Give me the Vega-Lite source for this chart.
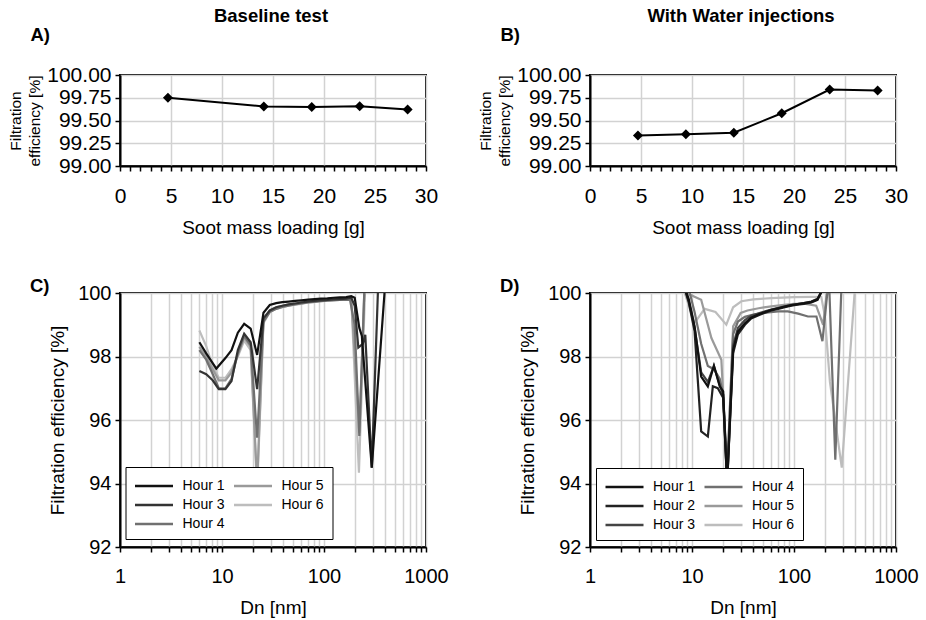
{
  "$schema": "https://vega.github.io/schema/vega-lite/v6.json",
  "background": "white",
  "padding": {"left": 7, "top": 5, "right": 5, "bottom": 2},
  "config": {
    "font": "Liberation Sans",
    "view": {"stroke": "black", "strokeWidth": 2},
    "axis": {
      "domainColor": "black", "domainWidth": 2,
      "tickColor": "black", "tickWidth": 1.5, "tickSize": 5,
      "labelFont": "Liberation Sans", "labelFontSize": 20, "labelColor": "black",
      "titleFont": "Liberation Sans", "titleFontSize": 19, "titleFontWeight": "normal", "titleColor": "black",
      "gridColor": "#d2d2d2", "gridWidth": 1.5,
      "labelFlush": false, "labelOverlap": false
    },
    "axisX": {"labelPadding": 14, "titlePadding": 12},
    "axisY": {"labelPadding": 4, "titlePadding": 10},
    "title": {"font": "Liberation Sans", "fontSize": 18.5, "fontWeight": "bold", "color": "black"}
  },
  "datasets": {
    "effA": [
      {"load": 4.7, "eff": 99.75}, {"load": 14.1, "eff": 99.655}, {"load": 18.8, "eff": 99.647},
      {"load": 23.5, "eff": 99.657}, {"load": 28.2, "eff": 99.62}
    ],
    "effB": [
      {"load": 4.7, "eff": 99.335}, {"load": 9.4, "eff": 99.35}, {"load": 14.1, "eff": 99.365},
      {"load": 18.8, "eff": 99.58}, {"load": 23.5, "eff": 99.84}, {"load": 28.2, "eff": 99.83}
    ],
    "psdC": [
      {"hour": "Hour 6", "dn": 6.0, "eff": 98.82}, {"hour": "Hour 6", "dn": 7.0, "eff": 98.33}, {"hour": "Hour 6", "dn": 8.1, "eff": 97.7}, {"hour": "Hour 6", "dn": 9.3, "eff": 97.33}, {"hour": "Hour 6", "dn": 10.8, "eff": 97.33}, {"hour": "Hour 6", "dn": 12.4, "eff": 97.6}, {"hour": "Hour 6", "dn": 14.3, "eff": 98.0}, {"hour": "Hour 6", "dn": 16.5, "eff": 98.5}, {"hour": "Hour 6", "dn": 19.1, "eff": 98.2}, {"hour": "Hour 6", "dn": 22.1, "eff": 93.8}, {"hour": "Hour 6", "dn": 25.5, "eff": 99.05}, {"hour": "Hour 6", "dn": 29.4, "eff": 99.4}, {"hour": "Hour 6", "dn": 34, "eff": 99.5}, {"hour": "Hour 6", "dn": 39, "eff": 99.55}, {"hour": "Hour 6", "dn": 45, "eff": 99.6}, {"hour": "Hour 6", "dn": 52, "eff": 99.63}, {"hour": "Hour 6", "dn": 60, "eff": 99.66}, {"hour": "Hour 6", "dn": 70, "eff": 99.7}, {"hour": "Hour 6", "dn": 81, "eff": 99.72}, {"hour": "Hour 6", "dn": 93, "eff": 99.74}, {"hour": "Hour 6", "dn": 108, "eff": 99.76}, {"hour": "Hour 6", "dn": 124, "eff": 99.78}, {"hour": "Hour 6", "dn": 143, "eff": 99.8}, {"hour": "Hour 6", "dn": 165, "eff": 99.82}, {"hour": "Hour 6", "dn": 185, "eff": 99.85}, {"hour": "Hour 6", "dn": 220, "eff": 94.34}, {"hour": "Hour 6", "dn": 254, "eff": 100.3},
      {"hour": "Hour 5", "dn": 6.0, "eff": 98.3}, {"hour": "Hour 5", "dn": 7.0, "eff": 98.0}, {"hour": "Hour 5", "dn": 8.1, "eff": 97.6}, {"hour": "Hour 5", "dn": 9.3, "eff": 97.25}, {"hour": "Hour 5", "dn": 10.8, "eff": 97.25}, {"hour": "Hour 5", "dn": 12.4, "eff": 97.5}, {"hour": "Hour 5", "dn": 14.3, "eff": 98.05}, {"hour": "Hour 5", "dn": 16.5, "eff": 98.6}, {"hour": "Hour 5", "dn": 19.1, "eff": 98.3}, {"hour": "Hour 5", "dn": 22.1, "eff": 94.0}, {"hour": "Hour 5", "dn": 25.5, "eff": 99.15}, {"hour": "Hour 5", "dn": 29.4, "eff": 99.45}, {"hour": "Hour 5", "dn": 34, "eff": 99.55}, {"hour": "Hour 5", "dn": 39, "eff": 99.6}, {"hour": "Hour 5", "dn": 45, "eff": 99.64}, {"hour": "Hour 5", "dn": 52, "eff": 99.67}, {"hour": "Hour 5", "dn": 60, "eff": 99.7}, {"hour": "Hour 5", "dn": 70, "eff": 99.73}, {"hour": "Hour 5", "dn": 81, "eff": 99.75}, {"hour": "Hour 5", "dn": 93, "eff": 99.77}, {"hour": "Hour 5", "dn": 108, "eff": 99.78}, {"hour": "Hour 5", "dn": 124, "eff": 99.8}, {"hour": "Hour 5", "dn": 143, "eff": 99.8}, {"hour": "Hour 5", "dn": 165, "eff": 99.8}, {"hour": "Hour 5", "dn": 185, "eff": 99.82}, {"hour": "Hour 5", "dn": 222, "eff": 95.6}, {"hour": "Hour 5", "dn": 250, "eff": 100.3},
      {"hour": "Hour 4", "dn": 6.0, "eff": 98.2}, {"hour": "Hour 4", "dn": 7.0, "eff": 97.9}, {"hour": "Hour 4", "dn": 8.1, "eff": 97.45}, {"hour": "Hour 4", "dn": 9.3, "eff": 97.0}, {"hour": "Hour 4", "dn": 10.8, "eff": 97.0}, {"hour": "Hour 4", "dn": 12.4, "eff": 97.3}, {"hour": "Hour 4", "dn": 14.3, "eff": 98.1}, {"hour": "Hour 4", "dn": 16.5, "eff": 98.65}, {"hour": "Hour 4", "dn": 19.1, "eff": 98.35}, {"hour": "Hour 4", "dn": 22.1, "eff": 95.44}, {"hour": "Hour 4", "dn": 25.5, "eff": 99.1}, {"hour": "Hour 4", "dn": 29.4, "eff": 99.4}, {"hour": "Hour 4", "dn": 34, "eff": 99.5}, {"hour": "Hour 4", "dn": 39, "eff": 99.56}, {"hour": "Hour 4", "dn": 45, "eff": 99.6}, {"hour": "Hour 4", "dn": 52, "eff": 99.64}, {"hour": "Hour 4", "dn": 60, "eff": 99.67}, {"hour": "Hour 4", "dn": 70, "eff": 99.7}, {"hour": "Hour 4", "dn": 81, "eff": 99.72}, {"hour": "Hour 4", "dn": 93, "eff": 99.74}, {"hour": "Hour 4", "dn": 108, "eff": 99.76}, {"hour": "Hour 4", "dn": 124, "eff": 99.77}, {"hour": "Hour 4", "dn": 143, "eff": 99.78}, {"hour": "Hour 4", "dn": 165, "eff": 99.78}, {"hour": "Hour 4", "dn": 180, "eff": 99.78}, {"hour": "Hour 4", "dn": 200, "eff": 99.0}, {"hour": "Hour 4", "dn": 222, "eff": 95.5}, {"hour": "Hour 4", "dn": 250, "eff": 100.3},
      {"hour": "Hour 3", "dn": 6.0, "eff": 97.54}, {"hour": "Hour 3", "dn": 7.0, "eff": 97.44}, {"hour": "Hour 3", "dn": 8.1, "eff": 97.25}, {"hour": "Hour 3", "dn": 9.3, "eff": 96.97}, {"hour": "Hour 3", "dn": 10.8, "eff": 96.97}, {"hour": "Hour 3", "dn": 12.4, "eff": 97.23}, {"hour": "Hour 3", "dn": 14.3, "eff": 98.2}, {"hour": "Hour 3", "dn": 16.5, "eff": 98.72}, {"hour": "Hour 3", "dn": 19.1, "eff": 98.45}, {"hour": "Hour 3", "dn": 22.1, "eff": 96.97}, {"hour": "Hour 3", "dn": 25.5, "eff": 99.2}, {"hour": "Hour 3", "dn": 29.4, "eff": 99.45}, {"hour": "Hour 3", "dn": 34, "eff": 99.55}, {"hour": "Hour 3", "dn": 39, "eff": 99.6}, {"hour": "Hour 3", "dn": 45, "eff": 99.64}, {"hour": "Hour 3", "dn": 52, "eff": 99.67}, {"hour": "Hour 3", "dn": 60, "eff": 99.7}, {"hour": "Hour 3", "dn": 70, "eff": 99.73}, {"hour": "Hour 3", "dn": 81, "eff": 99.75}, {"hour": "Hour 3", "dn": 93, "eff": 99.77}, {"hour": "Hour 3", "dn": 108, "eff": 99.78}, {"hour": "Hour 3", "dn": 124, "eff": 99.8}, {"hour": "Hour 3", "dn": 143, "eff": 99.81}, {"hour": "Hour 3", "dn": 165, "eff": 99.82}, {"hour": "Hour 3", "dn": 185, "eff": 99.85}, {"hour": "Hour 3", "dn": 200, "eff": 99.6}, {"hour": "Hour 3", "dn": 217, "eff": 98.28}, {"hour": "Hour 3", "dn": 240, "eff": 98.4}, {"hour": "Hour 3", "dn": 254, "eff": 98.68}, {"hour": "Hour 3", "dn": 294, "eff": 94.5}, {"hour": "Hour 3", "dn": 340, "eff": 100.3},
      {"hour": "Hour 1", "dn": 6.0, "eff": 98.45}, {"hour": "Hour 1", "dn": 7.0, "eff": 98.1}, {"hour": "Hour 1", "dn": 8.8, "eff": 97.62}, {"hour": "Hour 1", "dn": 10.8, "eff": 97.95}, {"hour": "Hour 1", "dn": 12.4, "eff": 98.2}, {"hour": "Hour 1", "dn": 14.3, "eff": 98.75}, {"hour": "Hour 1", "dn": 16.5, "eff": 99.03}, {"hour": "Hour 1", "dn": 19.1, "eff": 98.88}, {"hour": "Hour 1", "dn": 22.1, "eff": 98.05}, {"hour": "Hour 1", "dn": 25.5, "eff": 99.38}, {"hour": "Hour 1", "dn": 29.4, "eff": 99.62}, {"hour": "Hour 1", "dn": 34, "eff": 99.68}, {"hour": "Hour 1", "dn": 39, "eff": 99.71}, {"hour": "Hour 1", "dn": 45, "eff": 99.73}, {"hour": "Hour 1", "dn": 52, "eff": 99.75}, {"hour": "Hour 1", "dn": 60, "eff": 99.77}, {"hour": "Hour 1", "dn": 70, "eff": 99.79}, {"hour": "Hour 1", "dn": 81, "eff": 99.81}, {"hour": "Hour 1", "dn": 93, "eff": 99.82}, {"hour": "Hour 1", "dn": 108, "eff": 99.83}, {"hour": "Hour 1", "dn": 124, "eff": 99.85}, {"hour": "Hour 1", "dn": 143, "eff": 99.86}, {"hour": "Hour 1", "dn": 165, "eff": 99.87}, {"hour": "Hour 1", "dn": 185, "eff": 99.9}, {"hour": "Hour 1", "dn": 200, "eff": 99.85}, {"hour": "Hour 1", "dn": 222, "eff": 98.9}, {"hour": "Hour 1", "dn": 235, "eff": 98.65}, {"hour": "Hour 1", "dn": 294, "eff": 94.5}, {"hour": "Hour 1", "dn": 392, "eff": 100.0}
    ],
    "psdD": [
      {"hour": "Hour 6", "dn": 7.9, "eff": 100.3}, {"hour": "Hour 6", "dn": 10.6, "eff": 99.06}, {"hour": "Hour 6", "dn": 13.3, "eff": 99.5}, {"hour": "Hour 6", "dn": 17, "eff": 99.4}, {"hour": "Hour 6", "dn": 21.7, "eff": 99.0}, {"hour": "Hour 6", "dn": 25.3, "eff": 99.55}, {"hour": "Hour 6", "dn": 30.5, "eff": 99.74}, {"hour": "Hour 6", "dn": 40, "eff": 99.8}, {"hour": "Hour 6", "dn": 60, "eff": 99.84}, {"hour": "Hour 6", "dn": 100, "eff": 99.87}, {"hour": "Hour 6", "dn": 150, "eff": 99.88}, {"hour": "Hour 6", "dn": 185, "eff": 99.88}, {"hour": "Hour 6", "dn": 200, "eff": 99.3}, {"hour": "Hour 6", "dn": 225, "eff": 97.2}, {"hour": "Hour 6", "dn": 294, "eff": 94.5}, {"hour": "Hour 6", "dn": 397, "eff": 100.2},
      {"hour": "Hour 5", "dn": 8.4, "eff": 100.2}, {"hour": "Hour 5", "dn": 9.5, "eff": 99.95}, {"hour": "Hour 5", "dn": 12.3, "eff": 99.79}, {"hour": "Hour 5", "dn": 15.5, "eff": 98.58}, {"hour": "Hour 5", "dn": 19.4, "eff": 97.9}, {"hour": "Hour 5", "dn": 22.1, "eff": 94.3}, {"hour": "Hour 5", "dn": 25.3, "eff": 98.95}, {"hour": "Hour 5", "dn": 30, "eff": 99.37}, {"hour": "Hour 5", "dn": 35, "eff": 99.45}, {"hour": "Hour 5", "dn": 45, "eff": 99.52}, {"hour": "Hour 5", "dn": 60, "eff": 99.58}, {"hour": "Hour 5", "dn": 80, "eff": 99.63}, {"hour": "Hour 5", "dn": 100, "eff": 99.66}, {"hour": "Hour 5", "dn": 130, "eff": 99.66}, {"hour": "Hour 5", "dn": 165, "eff": 99.6}, {"hour": "Hour 5", "dn": 193, "eff": 99.0}, {"hour": "Hour 5", "dn": 215, "eff": 100.3},
      {"hour": "Hour 4", "dn": 9.0, "eff": 100.3}, {"hour": "Hour 4", "dn": 10.6, "eff": 99.4}, {"hour": "Hour 4", "dn": 12.3, "eff": 98.4}, {"hour": "Hour 4", "dn": 14.3, "eff": 97.7}, {"hour": "Hour 4", "dn": 16.4, "eff": 97.6}, {"hour": "Hour 4", "dn": 18.7, "eff": 97.3}, {"hour": "Hour 4", "dn": 20.2, "eff": 96.8}, {"hour": "Hour 4", "dn": 22.1, "eff": 94.3}, {"hour": "Hour 4", "dn": 25.3, "eff": 98.7}, {"hour": "Hour 4", "dn": 28.2, "eff": 99.1}, {"hour": "Hour 4", "dn": 33, "eff": 99.25}, {"hour": "Hour 4", "dn": 40, "eff": 99.32}, {"hour": "Hour 4", "dn": 50, "eff": 99.37}, {"hour": "Hour 4", "dn": 70, "eff": 99.42}, {"hour": "Hour 4", "dn": 87, "eff": 99.42}, {"hour": "Hour 4", "dn": 110, "eff": 99.35}, {"hour": "Hour 4", "dn": 137, "eff": 99.26}, {"hour": "Hour 4", "dn": 166, "eff": 99.26}, {"hour": "Hour 4", "dn": 190, "eff": 98.48}, {"hour": "Hour 4", "dn": 220, "eff": 100.5}, {"hour": "Hour 4", "dn": 254, "eff": 94.75}, {"hour": "Hour 4", "dn": 294, "eff": 100.5},
      {"hour": "Hour 3", "dn": 8.0, "eff": 100.4}, {"hour": "Hour 3", "dn": 9.3, "eff": 99.75}, {"hour": "Hour 3", "dn": 10.6, "eff": 98.9}, {"hour": "Hour 3", "dn": 12.3, "eff": 97.5}, {"hour": "Hour 3", "dn": 14.3, "eff": 97.2}, {"hour": "Hour 3", "dn": 16.4, "eff": 97.7}, {"hour": "Hour 3", "dn": 18.7, "eff": 97.1}, {"hour": "Hour 3", "dn": 20.2, "eff": 96.8}, {"hour": "Hour 3", "dn": 22.1, "eff": 94.0}, {"hour": "Hour 3", "dn": 25.3, "eff": 98.35}, {"hour": "Hour 3", "dn": 28.2, "eff": 98.9}, {"hour": "Hour 3", "dn": 33, "eff": 99.15}, {"hour": "Hour 3", "dn": 38, "eff": 99.28}, {"hour": "Hour 3", "dn": 45, "eff": 99.36}, {"hour": "Hour 3", "dn": 52, "eff": 99.42}, {"hour": "Hour 3", "dn": 60, "eff": 99.48}, {"hour": "Hour 3", "dn": 70, "eff": 99.53}, {"hour": "Hour 3", "dn": 81, "eff": 99.58}, {"hour": "Hour 3", "dn": 94, "eff": 99.62}, {"hour": "Hour 3", "dn": 108, "eff": 99.65}, {"hour": "Hour 3", "dn": 125, "eff": 99.68}, {"hour": "Hour 3", "dn": 148, "eff": 99.73}, {"hour": "Hour 3", "dn": 170, "eff": 99.82}, {"hour": "Hour 3", "dn": 190, "eff": 100.1},
      {"hour": "Hour 2", "dn": 8.0, "eff": 100.4}, {"hour": "Hour 2", "dn": 9.3, "eff": 99.7}, {"hour": "Hour 2", "dn": 10.6, "eff": 98.8}, {"hour": "Hour 2", "dn": 12.3, "eff": 95.64}, {"hour": "Hour 2", "dn": 14.3, "eff": 95.48}, {"hour": "Hour 2", "dn": 16.0, "eff": 97.06}, {"hour": "Hour 2", "dn": 17.9, "eff": 97.0}, {"hour": "Hour 2", "dn": 20.2, "eff": 96.7}, {"hour": "Hour 2", "dn": 22.1, "eff": 94.0}, {"hour": "Hour 2", "dn": 25.3, "eff": 98.1}, {"hour": "Hour 2", "dn": 28.2, "eff": 98.7}, {"hour": "Hour 2", "dn": 33, "eff": 99.0}, {"hour": "Hour 2", "dn": 38, "eff": 99.2}, {"hour": "Hour 2", "dn": 45, "eff": 99.3}, {"hour": "Hour 2", "dn": 52, "eff": 99.38}, {"hour": "Hour 2", "dn": 60, "eff": 99.45}, {"hour": "Hour 2", "dn": 70, "eff": 99.5}, {"hour": "Hour 2", "dn": 81, "eff": 99.55}, {"hour": "Hour 2", "dn": 94, "eff": 99.6}, {"hour": "Hour 2", "dn": 108, "eff": 99.63}, {"hour": "Hour 2", "dn": 125, "eff": 99.66}, {"hour": "Hour 2", "dn": 148, "eff": 99.7}, {"hour": "Hour 2", "dn": 170, "eff": 99.78}, {"hour": "Hour 2", "dn": 190, "eff": 100.1},
      {"hour": "Hour 1", "dn": 8.0, "eff": 100.4}, {"hour": "Hour 1", "dn": 9.3, "eff": 99.8}, {"hour": "Hour 1", "dn": 10.6, "eff": 98.95}, {"hour": "Hour 1", "dn": 12.3, "eff": 97.37}, {"hour": "Hour 1", "dn": 14.3, "eff": 97.06}, {"hour": "Hour 1", "dn": 16.4, "eff": 97.71}, {"hour": "Hour 1", "dn": 18.7, "eff": 97.06}, {"hour": "Hour 1", "dn": 20.2, "eff": 96.9}, {"hour": "Hour 1", "dn": 22.1, "eff": 94.0}, {"hour": "Hour 1", "dn": 25.3, "eff": 98.21}, {"hour": "Hour 1", "dn": 28.2, "eff": 98.79}, {"hour": "Hour 1", "dn": 33, "eff": 99.05}, {"hour": "Hour 1", "dn": 38, "eff": 99.22}, {"hour": "Hour 1", "dn": 45, "eff": 99.33}, {"hour": "Hour 1", "dn": 52, "eff": 99.4}, {"hour": "Hour 1", "dn": 60, "eff": 99.47}, {"hour": "Hour 1", "dn": 70, "eff": 99.52}, {"hour": "Hour 1", "dn": 81, "eff": 99.57}, {"hour": "Hour 1", "dn": 94, "eff": 99.62}, {"hour": "Hour 1", "dn": 108, "eff": 99.65}, {"hour": "Hour 1", "dn": 125, "eff": 99.68}, {"hour": "Hour 1", "dn": 148, "eff": 99.72}, {"hour": "Hour 1", "dn": 170, "eff": 99.8}, {"hour": "Hour 1", "dn": 190, "eff": 100.1}
    ]
  },
  "columns": 2,
  "spacing": {"row": 127, "column": 164},
  "bounds": "flush",
  "align": "each",
  "resolve": {"scale": {"color": "independent"}, "legend": {"color": "independent"}},
  "concat": [
    {
      "width": 306, "height": 91,
      "title": {"text": "Baseline test", "anchor": "middle", "frame": "group", "offset": 0, "dx": -2},
      "data": {"name": "effA"},
      "encoding": {
        "y": {"field": "eff", "type": "quantitative", "scale": {"domain": [99, 100], "nice": false, "zero": false},
              "axis": {"title": ["Filtration", "efficiency [%]"], "titleFontSize": 15.5, "titleLineHeight": 19, "values": [99, 99.25, 99.5, 99.75, 100], "format": ".2f", "titlePadding": 4, "labelFontSize": 21}}
      },
      "layer": [
        {"mark": {"type": "line", "color": "black", "strokeWidth": 2},
         "encoding": {"x": {"field": "load", "type": "quantitative", "scale": {"domain": [0, 30], "nice": false},
           "axis": {"title": "Soot mass loading [g]", "labelFontSize": 21, "values": [0,1,2,3,4,5,6,7,8,9,10,11,12,13,14,15,16,17,18,19,20,21,22,23,24,25,26,27,28,29,30],
                    "labelExpr": "datum.value % 5 === 0 ? datum.label : ''",
                    "gridOpacity": {"condition": {"test": "datum.value % 5 === 0", "value": 1}, "value": 0}}}}},
        {"mark": {"type": "point", "shape": "diamond", "filled": true, "color": "black", "opacity": 1, "size": 100},
         "encoding": {"x": {"field": "load", "type": "quantitative", "scale": {"domain": [0, 30], "nice": false},
           "axis": {"orient": "top", "title": "A)", "labels": false, "ticks": false, "domain": false, "grid": false,
                    "titleFontWeight": "bold", "titleFontSize": 18.5, "titleAnchor": "start", "titleAlign": "left", "titleAngle": 0,
                    "titleX": -90, "titleY": -35, "titleBaseline": "alphabetic"}}}}
      ],
      "resolve": {"axis": {"x": "independent"}}
    },
    {
      "width": 306, "height": 91,
      "title": {"text": "With Water injections", "anchor": "middle", "frame": "group", "offset": 0, "dx": -2},
      "data": {"name": "effB"},
      "encoding": {
        "y": {"field": "eff", "type": "quantitative", "scale": {"domain": [99, 100], "nice": false, "zero": false},
              "axis": {"title": ["Filtration", "efficiency [%]"], "titleFontSize": 15.5, "titleLineHeight": 19, "values": [99, 99.25, 99.5, 99.75, 100], "format": ".2f", "titlePadding": 4, "labelFontSize": 21}}
      },
      "layer": [
        {"mark": {"type": "line", "color": "black", "strokeWidth": 2},
         "encoding": {"x": {"field": "load", "type": "quantitative", "scale": {"domain": [0, 30], "nice": false},
           "axis": {"title": "Soot mass loading [g]", "labelFontSize": 21, "values": [0,1,2,3,4,5,6,7,8,9,10,11,12,13,14,15,16,17,18,19,20,21,22,23,24,25,26,27,28,29,30],
                    "labelExpr": "datum.value % 5 === 0 ? datum.label : ''",
                    "gridOpacity": {"condition": {"test": "datum.value % 5 === 0", "value": 1}, "value": 0}}}}},
        {"mark": {"type": "point", "shape": "diamond", "filled": true, "color": "black", "opacity": 1, "size": 100},
         "encoding": {"x": {"field": "load", "type": "quantitative", "scale": {"domain": [0, 30], "nice": false},
           "axis": {"orient": "top", "title": "B)", "labels": false, "ticks": false, "domain": false, "grid": false,
                    "titleFontWeight": "bold", "titleFontSize": 18.5, "titleAnchor": "start", "titleAlign": "left", "titleAngle": 0,
                    "titleX": -90, "titleY": -35, "titleBaseline": "alphabetic"}}}}
      ],
      "resolve": {"axis": {"x": "independent"}}
    },
    {
      "width": 306, "height": 254,
      "title": {"text": "C)", "anchor": "start", "frame": "group", "dx": -90, "offset": -27, "baseline": "alphabetic"},
      "data": {"name": "psdC"},
      "mark": {"type": "line", "strokeWidth": 2.2, "clip": true},
      "encoding": {
        "x": {"field": "dn", "type": "quantitative", "scale": {"type": "log", "domain": [1, 1000], "nice": false},
              "axis": {"title": "Dn [nm]", "format": "d", "values": [1,2,3,4,5,6,7,8,9,10,20,30,40,50,60,70,80,90,100,200,300,400,500,600,700,800,900,1000],
                       "labelExpr": "datum.value == 1 || datum.value == 10 || datum.value == 100 || datum.value == 1000 ? datum.label : ''"}},
        "y": {"field": "eff", "type": "quantitative", "scale": {"domain": [92, 100], "nice": false, "zero": false},
              "axis": {"title": "Filtration efficiency [%]", "values": [92, 94, 96, 98, 100], "format": "d"}},
        "color": {"field": "hour", "type": "nominal",
                  "scale": {"domain": ["Hour 1", "Hour 3", "Hour 4", "Hour 5", "Hour 6"], "range": ["#111111", "#333333", "#707070", "#9a9a9a", "#bdbdbd"]},
                  "legend": {"title": null, "orient": "none", "legendX": 5.5, "legendY": 174, "columns": 2, "direction": "vertical",
                             "strokeColor": "black", "fillColor": "white", "padding": 8,
                             "symbolType": "M-1,0H3", "symbolSize": 361, "symbolStrokeWidth": 2.5,
                             "labelFont": "Liberation Sans", "labelFontSize": 14, "labelColor": "black", "labelOffset": 27,
                             "columnPadding": 3, "rowPadding": 1}}
      }
    },
    {
      "width": 306, "height": 254,
      "title": {"text": "D)", "anchor": "start", "frame": "group", "dx": -90, "offset": -27, "baseline": "alphabetic"},
      "data": {"name": "psdD"},
      "mark": {"type": "line", "strokeWidth": 2.2, "clip": true},
      "encoding": {
        "x": {"field": "dn", "type": "quantitative", "scale": {"type": "log", "domain": [1, 1000], "nice": false},
              "axis": {"title": "Dn [nm]", "format": "d", "values": [1,2,3,4,5,6,7,8,9,10,20,30,40,50,60,70,80,90,100,200,300,400,500,600,700,800,900,1000],
                       "labelExpr": "datum.value == 1 || datum.value == 10 || datum.value == 100 || datum.value == 1000 ? datum.label : ''"}},
        "y": {"field": "eff", "type": "quantitative", "scale": {"domain": [92, 100], "nice": false, "zero": false},
              "axis": {"title": "Filtration efficiency [%]", "values": [92, 94, 96, 98, 100], "format": "d"}},
        "color": {"field": "hour", "type": "nominal",
                  "scale": {"domain": ["Hour 1", "Hour 2", "Hour 3", "Hour 4", "Hour 5", "Hour 6"], "range": ["#111111", "#222222", "#444444", "#707070", "#9a9a9a", "#bdbdbd"]},
                  "legend": {"title": null, "orient": "none", "legendX": 6, "legendY": 175, "columns": 2, "direction": "vertical",
                             "strokeColor": "black", "fillColor": "white", "padding": 8,
                             "symbolType": "M-1,0H3", "symbolSize": 361, "symbolStrokeWidth": 2.5,
                             "labelFont": "Liberation Sans", "labelFontSize": 14, "labelColor": "black", "labelOffset": 27,
                             "columnPadding": 3, "rowPadding": 1}}
      }
    }
  ]
}
